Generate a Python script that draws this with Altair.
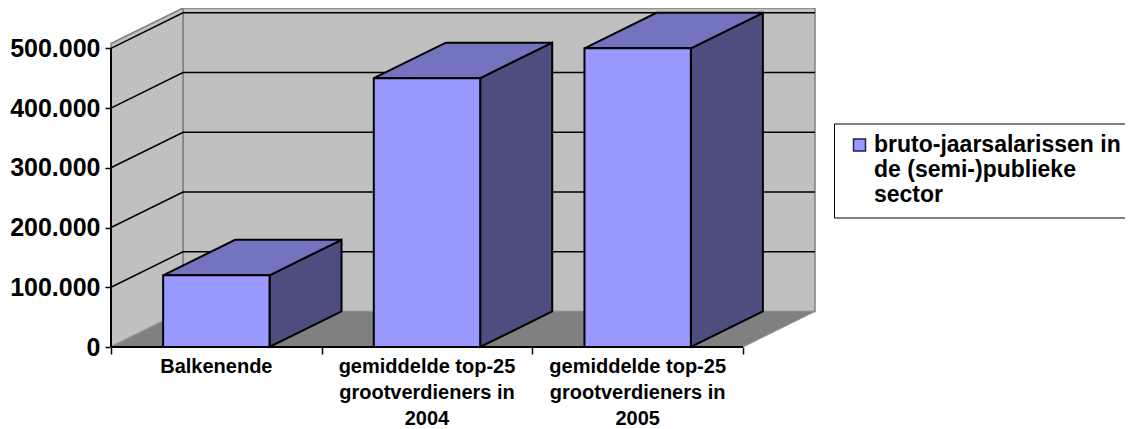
import altair as alt
import pandas as pd

FONT = "Liberation Sans"
series_name = "bruto-jaarsalarissen in de (semi-)publieke sector"
categories = [
    ["Balkenende"],
    ["gemiddelde top-25", "grootverdieners in", "2004"],
    ["gemiddelde top-25", "grootverdieners in", "2005"],
]
values = [120000, 450000, 500000]
y_ticks = [0, 100000, 200000, 300000, 400000, 500000]
wall_top = 508000
# oblique projection of the depth axis, in axis units
depth_x = 0.3418
depth_y = 59500
bar_from = 0.2475
bar_to = 0.7525

n = len(values)
xs = alt.Scale(domain=[0, n + depth_x], nice=False, zero=False)
ys = alt.Scale(domain=[0, wall_top + depth_y], nice=False, zero=False)
x_axis = alt.Axis(values=list(range(n + 1)), labels=False, domain=False, grid=False,
                  tickSize=7, tickWidth=1.5, tickColor="black", title=None)
y_axis = alt.Axis(values=y_ticks, domain=False, grid=False, tickSize=6, tickWidth=1.5,
                  tickColor="black", labelFont=FONT, labelFontSize=25,
                  labelFontWeight="bold", labelColor="black", labelPadding=5, title=None,
                  labelExpr="replace(format(datum.value, ',.0f'), ',', '.')")
X = alt.X("x:Q", scale=xs, axis=x_axis)
Y = alt.Y("y:Q", scale=ys, axis=y_axis)
Y2 = alt.Y2("y2:Q")
X2 = alt.X2("x2:Q")

back_wall = pd.DataFrame([{"x": depth_x, "x2": n + depth_x, "y": wall_top + depth_y, "y2": depth_y}])
left_wall = pd.DataFrame([
    {"x": 0, "y": wall_top, "y2": 0},
    {"x": depth_x, "y": wall_top + depth_y, "y2": depth_y},
])
floor = pd.DataFrame([
    {"x": 0, "y": 0, "y2": 0},
    {"x": depth_x, "y": depth_y, "y2": 0},
    {"x": n, "y": depth_y, "y2": 0},
    {"x": n + depth_x, "y": depth_y, "y2": depth_y},
])

grid_rows = []
for t in y_ticks[1:]:
    grid_rows += [
        {"level": t, "x": 0, "y": t},
        {"level": t, "x": depth_x, "y": t + depth_y},
        {"level": t, "x": n + depth_x, "y": t + depth_y},
    ]
grid = pd.DataFrame(grid_rows)

fronts, sides, tops = [], [], []
for i, v in enumerate(values):
    a, b = i + bar_from, i + bar_to
    fronts.append({"series": series_name, "x": a, "x2": b, "y": v, "y2": 0})
    sides += [
        {"bar": i, "x": b, "y": v, "y2": 0},
        {"bar": i, "x": b + depth_x, "y": v + depth_y, "y2": depth_y},
    ]
    tops += [
        {"bar": i, "x": a, "y": v, "y2": v},
        {"bar": i, "x": a + depth_x, "y": v + depth_y, "y2": v},
        {"bar": i, "x": b, "y": v + depth_y, "y2": v},
        {"bar": i, "x": b + depth_x, "y": v + depth_y, "y2": v + depth_y},
    ]
fronts, sides, tops = map(pd.DataFrame, (fronts, sides, tops))

labels = pd.DataFrame({"x": [i + 0.5 for i in range(n)], "y": [0] * n, "label": categories})

axis_frame = pd.DataFrame({"x": [0], "x2": [n], "y": [0], "y2": [500000]})

wall_style = dict(stroke="#808080", strokeWidth=1.5)

layers = [
    alt.Chart(back_wall).mark_rect(fill="#C0C0C0", **wall_style).encode(x=X, x2=X2, y=Y, y2=Y2),
    alt.Chart(left_wall).mark_area(fill="#C0C0C0", **wall_style).encode(x=X, y=Y, y2=Y2),
    alt.Chart(floor).mark_area(fill="#808080", stroke="#909090", strokeWidth=1).encode(x=X, y=Y, y2=Y2),
    alt.Chart(grid).mark_line(color="black", strokeWidth=1.5).encode(x=X, y=Y, detail="level:N"),
    alt.Chart(axis_frame).mark_rule(color="black", strokeWidth=2).encode(x=X, x2=X2, y=Y),
    alt.Chart(axis_frame).mark_rule(color="black", strokeWidth=2).encode(x=X, y=Y, y2=Y2),
    alt.Chart(sides).mark_area(fill="#4D4D80", stroke="black", strokeWidth=2).encode(x=X, y=Y, y2=Y2, detail="bar:N"),
    alt.Chart(tops).mark_area(fill="#7373BF", stroke="black", strokeWidth=2).encode(x=X, y=Y, y2=Y2, detail="bar:N"),
    alt.Chart(fronts).mark_rect(stroke="black", strokeWidth=2).encode(
        x=X, x2=X2, y=Y, y2=Y2,
        color=alt.Color("series:N", scale=alt.Scale(range=["#9999FF"]),
                        legend=alt.Legend(
                            orient="none", legendX=723, legendY=115.5, title=None,
                            strokeColor="black", fillColor="white", padding=10, symbolOffset=4,
                            symbolType="square", symbolSize=144, symbolStrokeColor="#222244",
                            symbolStrokeWidth=1.5, symbolOpacity=1,
                            labelFont=FONT, labelFontSize=23, labelFontWeight="bold",
                            labelColor="black", labelLimit=400, labelOffset=3,
                            labelExpr="['bruto-jaarsalarissen in', 'de (semi-)publieke', 'sector']",
                        )),
    ),
    alt.Chart(labels).mark_text(font=FONT, fontSize=20, fontWeight="bold", color="black",
                                align="center", baseline="top", dy=10, lineHeight=26).encode(
        x=X, y=Y, text="label:N"),
]

chart = alt.layer(*layers).properties(
    width=704, height=339,
    autosize=alt.AutoSizeParams(type="none"),
    padding={"left": 103, "top": 0, "right": 310, "bottom": 82},
    background="white",
).configure_view(stroke=None)

chart.save("out.html", embed_options={"renderer": "svg", "actions": False})
